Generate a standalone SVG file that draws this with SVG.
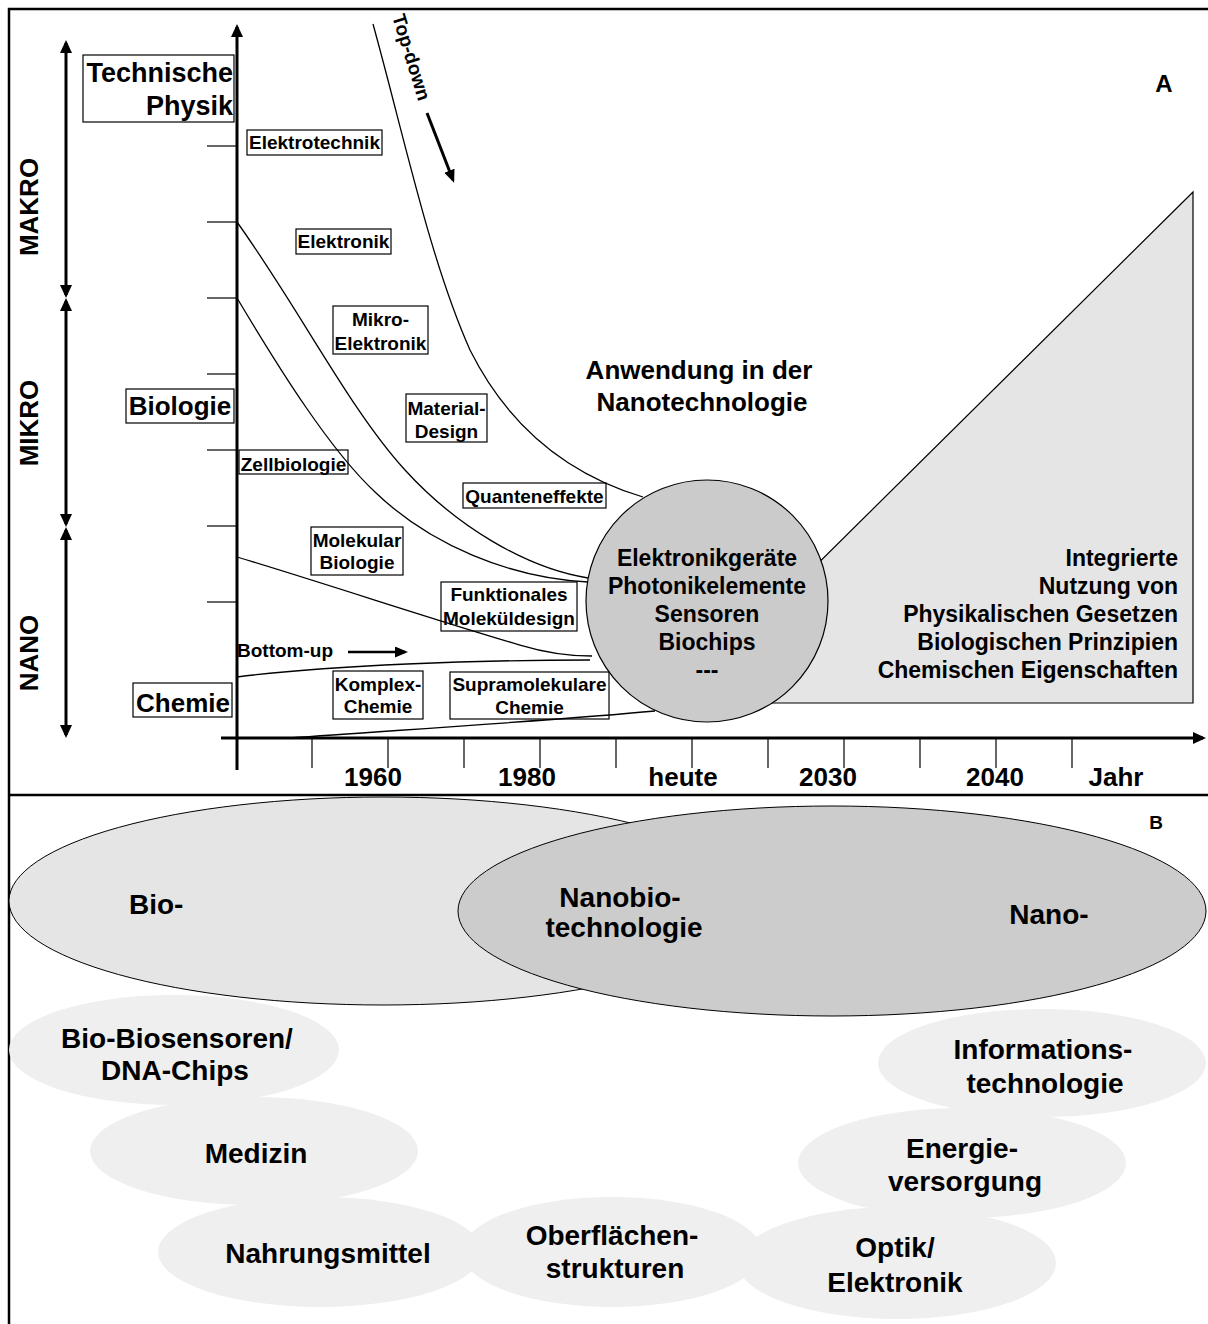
<svg xmlns="http://www.w3.org/2000/svg" width="1208" height="1324" viewBox="0 0 1208 1324">
<style>
text{font-family:"Liberation Sans",Arial,sans-serif;font-weight:bold;fill:#000}
.s19{font-size:19px}
.s26{font-size:26px}
.s23{font-size:23px}
.s28{font-size:28px}
.mid{text-anchor:middle}
.end{text-anchor:end}
.box{fill:none;stroke:#000;stroke-width:1.2}
.curve{fill:none;stroke:#000;stroke-width:1.3}
.axis{fill:none;stroke:#000;stroke-width:3}
.tick{stroke:#000;stroke-width:1.2}
.frame{stroke:#000;stroke-width:2.5;fill:none}
.oval{fill:#efefef;stroke:none}
</style>
<defs>
<marker id="ah" viewBox="0 0 13 12" markerWidth="13" markerHeight="12" refX="10" refY="6" orient="auto-start-reverse" markerUnits="userSpaceOnUse">
<path d="M0,0 L13,6 L0,12 z" fill="#000"/>
</marker>
<marker id="ahs" viewBox="0 0 13 11" markerWidth="13" markerHeight="11" refX="10" refY="5.5" orient="auto" markerUnits="userSpaceOnUse">
<path d="M0,0 L13,5.5 L0,11 z" fill="#000"/>
</marker>
</defs>
<rect width="1208" height="1324" fill="#fff"/>
<g id="frame">
<path class="frame" d="M9,1324 V9 H1208"/>
<path class="frame" d="M9,795 H1208"/>
</g>
<g id="triangle">
<polygon points="1193,192 1193,703 677,703" fill="#e5e5e5" stroke="#000" stroke-width="1.2"/>
</g>
<g id="connectors">
<path class="curve" d="M373,24 C405,140 430,260 470,350 C510,430 570,475 643,497"/>
<path class="curve" d="M237,222 C300,310 350,410 405,470 C455,525 525,568 588,578"/>
<path class="curve" d="M237,298 C280,370 330,450 375,492 C430,545 510,578 588,582"/>
<path class="curve" d="M237,557 C330,585 450,625 520,645 C550,654 570,656 592,656"/>
<path class="curve" d="M237,677 C330,665 480,660 590,660"/>
<path class="curve" d="M290,738 C400,730 560,720 655,711"/>
<line class="axis" x1="66" y1="43" x2="66" y2="295" marker-start="url(#ah)" marker-end="url(#ah)"/>
<line class="axis" x1="66" y1="301" x2="66" y2="524" marker-start="url(#ah)" marker-end="url(#ah)"/>
<line class="axis" x1="66" y1="530" x2="66" y2="735" marker-start="url(#ah)" marker-end="url(#ah)"/>
<line class="axis" x1="237" y1="770" x2="237" y2="27" marker-end="url(#ah)"/>
<line class="axis" x1="221" y1="738" x2="1203" y2="738" marker-end="url(#ah)"/>
<g class="tick">
<line x1="207" y1="146" x2="237" y2="146"/>
<line x1="207" y1="222" x2="237" y2="222"/>
<line x1="207" y1="298" x2="237" y2="298"/>
<line x1="207" y1="374" x2="237" y2="374"/>
<line x1="207" y1="450" x2="237" y2="450"/>
<line x1="207" y1="526" x2="237" y2="526"/>
<line x1="207" y1="602" x2="237" y2="602"/>
<line x1="312" y1="738" x2="312" y2="768"/>
<line x1="388" y1="738" x2="388" y2="768"/>
<line x1="464" y1="738" x2="464" y2="768"/>
<line x1="540" y1="738" x2="540" y2="768"/>
<line x1="616" y1="738" x2="616" y2="768"/>
<line x1="692" y1="738" x2="692" y2="768"/>
<line x1="768" y1="738" x2="768" y2="768"/>
<line x1="844" y1="738" x2="844" y2="768"/>
<line x1="920" y1="738" x2="920" y2="768"/>
<line x1="996" y1="738" x2="996" y2="768"/>
<line x1="1072" y1="738" x2="1072" y2="768"/>
</g>
<line x1="427" y1="113" x2="453" y2="180" stroke="#000" stroke-width="3" marker-end="url(#ahs)"/>
<line x1="348" y1="652" x2="405" y2="652" stroke="#000" stroke-width="2.5" marker-end="url(#ahs)"/>
</g>
<g id="circle">
<circle cx="707" cy="601" r="121" fill="#cbcbcb" stroke="#000" stroke-width="1.2"/>
<text class="s23 mid" x="707" y="566">Elektronikgeräte</text>
<text class="s23 mid" x="707" y="594">Photonikelemente</text>
<text class="s23 mid" x="707" y="622">Sensoren</text>
<text class="s23 mid" x="707" y="650">Biochips</text>
<text class="s23 mid" x="707" y="678">---</text>
</g>
<g id="triangle-text">
<text class="s23 end" x="1178" y="566">Integrierte</text>
<text class="s23 end" x="1178" y="594">Nutzung von</text>
<text class="s23 end" x="1178" y="622">Physikalischen Gesetzen</text>
<text class="s23 end" x="1178" y="650">Biologischen Prinzipien</text>
<text class="s23 end" x="1178" y="678">Chemischen Eigenschaften</text>
</g>
<g id="scale-labels">
<text class="s26 mid" transform="translate(38,207) rotate(-90)">MAKRO</text>
<text class="s26 mid" transform="translate(38,423) rotate(-90)">MIKRO</text>
<text class="s26 mid" transform="translate(38,653) rotate(-90)">NANO</text>
</g>
<g id="technische-physik">
<rect class="box" x="83" y="55" width="151" height="67"/>
<text class="end" style="font-size:27px" x="233" y="82">Technische</text>
<text class="end" style="font-size:27px" x="233" y="115">Physik</text>
</g>
<g id="biologie">
<rect class="box" x="126" y="389" width="108" height="34"/>
<text class="s26 mid" x="180" y="415">Biologie</text>
</g>
<g id="chemie">
<rect class="box" x="133" y="683" width="99" height="34"/>
<text class="s26 mid" x="183" y="712">Chemie</text>
</g>
<g id="elektrotechnik">
<rect class="box" x="247" y="130" width="135" height="25"/>
<text class="s19 mid" x="314.5" y="149">Elektrotechnik</text>
</g>
<g id="elektronik">
<rect class="box" x="296" y="229" width="95" height="25"/>
<text class="s19 mid" x="343.5" y="248">Elektronik</text>
</g>
<g id="mikroelektronik">
<rect class="box" x="333" y="306" width="95" height="48"/>
<text class="s19 mid" x="380.5" y="326">Mikro-</text>
<text class="s19 mid" x="380.5" y="350">Elektronik</text>
</g>
<g id="materialdesign">
<rect class="box" x="406" y="394" width="81" height="48"/>
<text class="s19 mid" x="446.5" y="415">Material-</text>
<text class="s19 mid" x="446.5" y="438">Design</text>
</g>
<g id="zellbiologie">
<rect class="box" x="239" y="450" width="109" height="24"/>
<text class="s19 mid" x="293.5" y="471">Zellbiologie</text>
</g>
<g id="quanteneffekte">
<rect class="box" x="463" y="483" width="143" height="25"/>
<text class="s19 mid" x="534.5" y="503">Quanteneffekte</text>
</g>
<g id="molekularbiologie">
<rect class="box" x="311" y="527" width="92" height="48"/>
<text class="s19 mid" x="357" y="547">Molekular</text>
<text class="s19 mid" x="357" y="569">Biologie</text>
</g>
<g id="funktionales">
<rect class="box" x="441" y="582" width="136" height="49"/>
<text class="s19 mid" x="509" y="601">Funktionales</text>
<text class="s19 mid" x="509" y="625">Moleküldesign</text>
</g>
<g id="komplexchemie">
<rect class="box" x="333" y="671" width="90" height="48"/>
<text class="s19 mid" x="378" y="691">Komplex-</text>
<text class="s19 mid" x="378" y="713">Chemie</text>
</g>
<g id="supramolekulare">
<rect class="box" x="450" y="672" width="159" height="47"/>
<text class="s19 mid" x="529.5" y="691">Supramolekulare</text>
<text class="s19 mid" x="529.5" y="714">Chemie</text>
</g>
<g id="misc-labels">
<text class="s19" transform="translate(412,57) rotate(72.8)" text-anchor="middle" y="7">Top-down</text>
<text class="s19" x="237" y="657">Bottom-up</text>
<text class="s26 mid" x="699" y="379">Anwendung in der</text>
<text class="s26 mid" x="702" y="411">Nanotechnologie</text>
<text class="mid" style="font-size:24px" x="1164" y="92">A</text>
</g>
<g id="years">
<text class="s26 mid" x="373" y="786">1960</text>
<text class="s26 mid" x="527" y="786">1980</text>
<text class="s26 mid" x="683" y="786">heute</text>
<text class="s26 mid" x="828" y="786">2030</text>
<text class="s26 mid" x="995" y="786">2040</text>
<text class="s26 mid" x="1116" y="786">Jahr</text>
</g>
<g id="bio">
<ellipse cx="383" cy="901" rx="374" ry="104" fill="#e5e5e5" stroke="#000" stroke-width="1"/>
</g>
<g id="nano">
<ellipse cx="832" cy="911" rx="374" ry="105" fill="#cccccc" stroke="#000" stroke-width="1"/>
</g>
<g id="bio-text"><text class="s28" x="129" y="914">Bio-</text></g>
<g id="nanobio-text">
<text class="s28 mid" x="620" y="907">Nanobio-</text>
<text class="s28 mid" x="624" y="937">technologie</text>
</g>
<g id="nano-text"><text class="s28 mid" x="1049" y="924">Nano-</text></g>
<text class="s19 mid" x="1156" y="829">B</text>
<g id="biosensoren">
<ellipse class="oval" cx="174" cy="1050" rx="165" ry="55"/>
</g>
<g id="medizin">
<ellipse class="oval" cx="254" cy="1151" rx="164" ry="54"/>
</g>
<g id="nahrungsmittel">
<ellipse class="oval" cx="320" cy="1252" rx="162" ry="55"/>
</g>
<g id="oberflaechen">
<ellipse class="oval" cx="612" cy="1252" rx="150" ry="55"/>
</g>
<g id="optik">
<ellipse class="oval" cx="897" cy="1263" rx="159" ry="56"/>
</g>
<g id="energie">
<ellipse class="oval" cx="962" cy="1163" rx="164" ry="55"/>
</g>
<g id="informations">
<ellipse class="oval" cx="1042" cy="1063" rx="164" ry="54"/>
</g>
<g id="oval-texts">
<text class="s28 mid" x="177" y="1048">Bio-Biosensoren/</text>
<text class="s28 mid" x="175" y="1080">DNA-Chips</text>
<text class="s28 mid" x="256" y="1163">Medizin</text>
<text class="s28 mid" x="328" y="1263">Nahrungsmittel</text>
<text class="s28 mid" x="612" y="1245">Oberflächen-</text>
<text class="s28 mid" x="615" y="1278">strukturen</text>
<text class="s28 mid" x="895" y="1257">Optik/</text>
<text class="s28 mid" x="895" y="1292">Elektronik</text>
<text class="s28 mid" x="962" y="1158">Energie-</text>
<text class="s28 mid" x="965" y="1191">versorgung</text>
<text class="s28 mid" x="1043" y="1059">Informations-</text>
<text class="s28 mid" x="1045" y="1093">technologie</text>
</g>
</svg>
